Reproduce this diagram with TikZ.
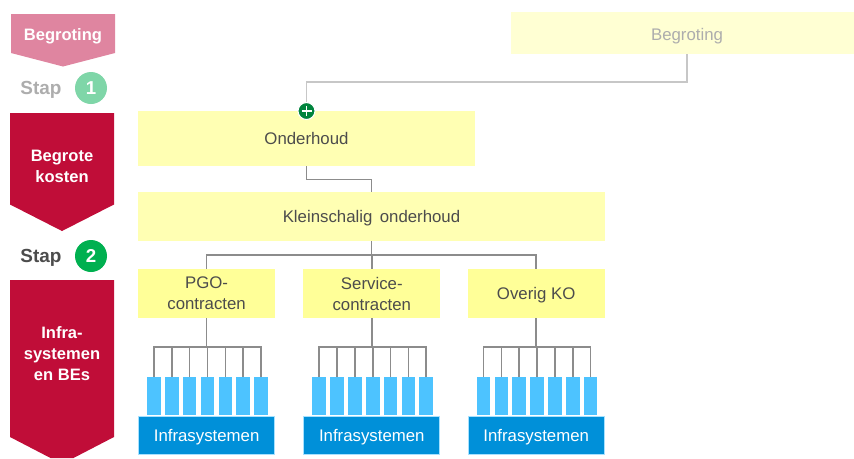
\documentclass[tikz,border=0pt]{standalone}
\usepackage{fontspec}
\setmainfont{Liberation Sans}
\usepackage{xcolor}
\definecolor{Stap Rood}{HTML}{C00D38}
\definecolor{Stap Roze}{HTML}{DF85A0}
\definecolor{Stap Groen}{HTML}{00B050}
\definecolor{Licht Groen}{HTML}{7FD6A8}
\definecolor{Plus Groen}{HTML}{00843D}
\definecolor{Geel}{HTML}{FFFFB3}
\definecolor{Licht Geel}{HTML}{FFFFD3}
\definecolor{Blauw}{HTML}{0090D9}
\definecolor{Licht Blauw}{HTML}{4DC3FF}
\colorlet{cText}{black!70}
\colorlet{cLine}{black!45}
\usetikzlibrary{calc}
\tikzset{
	font = \fontsize{12.6pt}{15.75pt}\selectfont,
	box/.style={
		fill=Geel,
		text=cText,
		align=center,
		inner sep=0pt,
		outer sep=0pt,
		text depth=0pt,
		minimum width=137*.75pt,
		minimum height=49*.75pt
	},
	bar/.style={
		fill=Licht Blauw,
		inner sep=0pt,
		outer sep=0pt,
		minimum width=13.6*.75pt,
		minimum height=38*.75pt
	},
	base/.style={
		draw=Licht Blauw!50,
		line width=.5pt,
		fill=Blauw,
		text=white,
		inner sep=0pt,
		outer sep=0pt,
		text depth=0pt,
		minimum width=136*.75pt,
		minimum height=38*.75pt
	},
	link/.style={
		draw=cLine,
		line width=1.2pt
	},
	steplabel/.style={
		text=white,
		align=center,
		inner sep=0pt,
		font=\fontsize{12.4pt}{15.75pt}\selectfont\bfseries
	},
	stapword/.style={
		inner sep=0pt,
		font=\fontsize{14.2pt}{15.75pt}\selectfont\bfseries
	},
	stepnum/.style={
		circle,
		inner sep=0pt,
		minimum size=32*.75pt,
		text=white,
		font=\fontsize{14pt}{15pt}\selectfont\bfseries
	}
}

\begin{document}
\begin{tikzpicture}[x=.75pt, y=-.75pt]
\useasboundingbox (0,0) rectangle (854,458);
% ---
% steps on the left
% ---
\fill[Stap Roze] (11,14) -- (115,14) -- (115,53) -- (63,66.5) -- (11,53) -- cycle;
\fill[Stap Rood] (10,113) -- (114,113) -- (114,204.5) -- (62,231) -- (10,204.5) -- cycle;
\fill[Stap Rood] (10,280) -- (114,280) -- (114,437) -- (73.5,458) -- (50.5,458) -- (10,437) -- cycle;

\node[steplabel, text depth=0pt] (s-begroting) at (63,35) {Begroting};
\node[steplabel] (s-kosten) at (62,166) {Begrote\\kosten};
\node[steplabel] (s-infra) at (62,353.5) {Infra-\\systemen\\en BEs};

\node[stapword, text=black!32] (stap1) at (41,90) {Stap};
\node[stepnum, fill=Licht Groen] (num1) at (91,88) {1};
\node[stapword, text=black!70] (stap2) at (41,258) {Stap};
\node[stepnum, fill=Stap Groen] (num2) at (91,256) {2};

% ---
% tree
% ---
\fill[Licht Geel] (511,12) rectangle (854,54);
\node[text=black!32, inner sep=0pt, text depth=0pt] (begroting) at (687,34) {Begroting};
\coordinate (begroting-s) at (687,54);
\node[box, minimum width=337*.75pt, minimum height=55*.75pt] (onderhoud) at (306.5,138.5) {Onderhoud};
\node[box, minimum width=467*.75pt] (klein) at (371.5,216.5) {Kleinschalig\, onderhoud};
\node[box, fill=Geel!85!yellow] (pgo) at (206.6,293.5) {PGO-\\contracten};
\node[box, fill=Geel!85!yellow] (service) at (371.8,293.5) {Service-\\contracten};
\node[box, fill=Geel!85!yellow] (overig) at (536.2,293.5) {Overig KO};

\draw[link, draw=black!22] (begroting-s) -- ++(0,28) -| (onderhoud.north);
\node[circle, draw=white, line width=.8pt, fill=Plus Groen, inner sep=0pt, minimum size=17*.75pt] (plus) at (onderhoud.north) {};
\draw[white, line width=1.2pt] ($(plus)+(-5,0)$) -- ($(plus)+(5,0)$) ($(plus)+(0,-5)$) -- ($(plus)+(0,5)$);

\draw[link] (onderhoud.south) -- ++(0,13.5) -| (klein.north);
\draw[link] (klein.south) -- (371.5,255) coordinate (hub);
\foreach \child in {pgo, service, overig} {
	\draw[link] (hub) -| (\child.north);
}

\foreach \child in {pgo, service, overig} {
	\node[base] (\child-base) at ($(\child.south)+(0,117.5)$) {Infrasystemen};
	\coordinate (\child-hub) at ($(\child.south)+(0,29)$);
	\draw[link] (\child.south) -- (\child-hub);
	\foreach \i in {1,...,7} {
		\node[bar] (\child-\i) at ($(\child.south)+({(\i-4)*17.85+.9},78)$) {};
		\draw[link] (\child-hub) -| (\child-\i.north);
	}
}
\end{tikzpicture}
\end{document}
